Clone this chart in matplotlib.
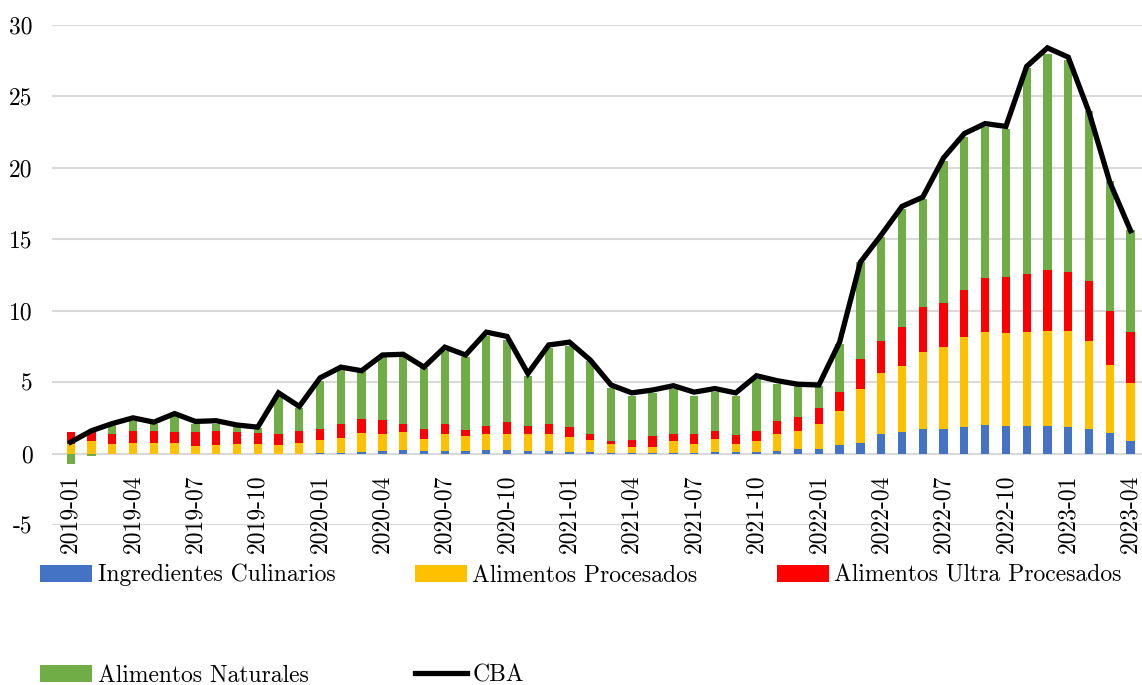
import matplotlib
matplotlib.use('Agg')
import matplotlib.pyplot as plt
import numpy as np

meses = ['2019-01', '2019-02', '2019-03', '2019-04', '2019-05', '2019-06',
         '2019-07', '2019-08', '2019-09', '2019-10', '2019-11', '2019-12',
         '2020-01', '2020-02', '2020-03', '2020-04', '2020-05', '2020-06',
         '2020-07', '2020-08', '2020-09', '2020-10', '2020-11', '2020-12',
         '2021-01', '2021-02', '2021-03', '2021-04', '2021-05', '2021-06',
         '2021-07', '2021-08', '2021-09', '2021-10', '2021-11', '2021-12',
         '2022-01', '2022-02', '2022-03', '2022-04', '2022-05', '2022-06',
         '2022-07', '2022-08', '2022-09', '2022-10', '2022-11', '2022-12',
         '2023-01', '2023-02', '2023-03', '2023-04']

ingredientes = [0, 0, 0, 0, 0, 0, 0, 0, 0, 0, 0, 0,
                0.02, 0.05, 0.08, 0.15, 0.25, 0.2, 0.2, 0.2, 0.25, 0.25, 0.15, 0.15,
                0.1, 0.1, 0.05, 0.02, 0.02, 0.02, 0.05, 0.1, 0.1, 0.1, 0.2, 0.3,
                0.35, 0.6, 0.77, 1.35, 1.5, 1.7, 1.75, 1.86, 1.98, 1.93, 1.93, 1.93,
                1.86, 1.72, 1.44, 0.88]
procesados = [0.7, 0.85, 0.7, 0.77, 0.75, 0.75, 0.55, 0.6, 0.7, 0.7, 0.6, 0.75,
              0.93, 1.05, 1.37, 1.25, 1.25, 0.85, 1.2, 1.0, 1.1, 1.15, 1.25, 1.25,
              1.05, 0.85, 0.6, 0.43, 0.43, 0.88, 0.65, 0.9, 0.6, 0.75, 1.2, 1.3,
              1.7, 2.35, 3.73, 4.3, 4.65, 5.4, 5.7, 6.28, 6.51, 6.54, 6.6, 6.63,
              6.74, 6.14, 4.79, 4.07]
ultra = [0.8, 0.65, 0.65, 0.83, 0.85, 0.75, 0.95, 1.0, 0.8, 0.75, 0.75, 0.85,
         0.8, 1.0, 1.0, 0.95, 0.6, 0.65, 0.65, 0.45, 0.6, 0.8, 0.5, 0.65,
         0.7, 0.45, 0.25, 0.5, 0.75, 0.45, 0.7, 0.55, 0.6, 0.7, 0.85, 0.95,
         1.15, 1.35, 2.1, 2.25, 2.7, 3.15, 3.1, 3.3, 3.79, 3.86, 4.07, 4.32,
         4.14, 4.19, 3.77, 3.54]
naturales = [-0.7, -0.15, 0.65, 0.65, 0.5, 1.1, 0.6, 0.5, 0.4, 0.35, 2.65, 1.6,
             3.35, 3.8, 3.3, 4.4, 4.65, 4.3, 5.15, 5.1, 6.3, 5.75, 3.55, 5.35,
             5.7, 5.1, 3.7, 3.1, 3.05, 3.2, 2.65, 2.75, 2.75, 3.65, 2.65, 2.15,
             1.55, 3.4, 6.8, 7.25, 8.25, 7.6, 9.95, 10.7, 10.56, 10.41, 14.38, 15.12,
             14.82, 11.9, 9.07, 7.16]
cba = [0.8, 1.6, 2.1, 2.5, 2.2, 2.8, 2.25, 2.3, 2.0, 1.85, 4.25, 3.3,
       5.3, 6.05, 5.8, 6.9, 6.95, 6.05, 7.45, 6.9, 8.5, 8.2, 5.6, 7.6,
       7.8, 6.55, 4.8, 4.25, 4.45, 4.75, 4.3, 4.55, 4.25, 5.45, 5.1, 4.85,
       4.8, 7.8, 13.4, 15.3, 17.3, 17.95, 20.7, 22.4, 23.1, 22.9, 27.1, 28.4,
       27.75, 23.9, 19.0, 15.6]

plt.rcParams['font.family'] = ['cmr10', 'DejaVu Serif']
plt.rcParams['axes.unicode_minus'] = False

fig = plt.figure(figsize=(11.42, 6.85), dpi=100)
ax = fig.add_axes([52 / 1142, 160 / 685, 1090 / 1142, 500 / 685])

x = np.arange(len(meses))
series = [(ingredientes, '#4472C4', 'Ingredientes Culinarios'),
          (procesados, '#FFC000', 'Alimentos Procesados'),
          (ultra, '#FF0000', 'Alimentos Ultra Procesados'),
          (naturales, '#70AD47', 'Alimentos Naturales')]

pos_base = np.zeros(len(meses))
neg_base = np.zeros(len(meses))
handles = []
for vals, color, label in series:
    v = np.array(vals, dtype=float)
    bottom = np.where(v >= 0, pos_base, neg_base)
    b = ax.bar(x, v, width=0.4, bottom=bottom, color=color, label=label, zorder=2)
    handles.append(b)
    pos_base = pos_base + np.where(v >= 0, v, 0)
    neg_base = neg_base + np.where(v < 0, v, 0)

line, = ax.plot(x, cba, color='black', lw=3.8, label='CBA', zorder=3,
                solid_joinstyle='miter')

ax.set_ylim(-5, 30)
ax.set_xlim(-0.9, 51.55)
yt = np.arange(-5, 31, 5)
ax.set_yticks(yt)
ax.set_yticklabels([str(v) for v in yt], fontsize=17)
ax.yaxis.grid(True, color='#D9D9D9', lw=1.5, zorder=0)
ax.set_axisbelow(True)
ax.tick_params(axis='y', length=0, pad=14)
ax.set_xticks([])
for s in ax.spines.values():
    s.set_visible(False)

for i in range(0, len(meses), 3):
    ax.annotate(meses[i], xy=(i, 0), xytext=(0, -15), textcoords='offset points',
                rotation=90, ha='center', va='top', fontsize=17)

# legend fills column by column, so order it to read row by row
orden = [0, 3, 1, 4, 2]
todos = handles + [line]
nombres = [h.get_label() for h in todos]
fig.legend(handles=[todos[k] for k in orden],
           labels=[nombres[k] for k in orden],
           ncol=3, loc='upper left', bbox_to_anchor=(40 / 1142, 1 - 564 / 685),
           frameon=False, fontsize=17, handlelength=2.2, handletextpad=0.25,
           columnspacing=3.35, labelspacing=3.3, borderpad=0, borderaxespad=0)

fig.savefig('out.png', dpi=100, facecolor='white')
